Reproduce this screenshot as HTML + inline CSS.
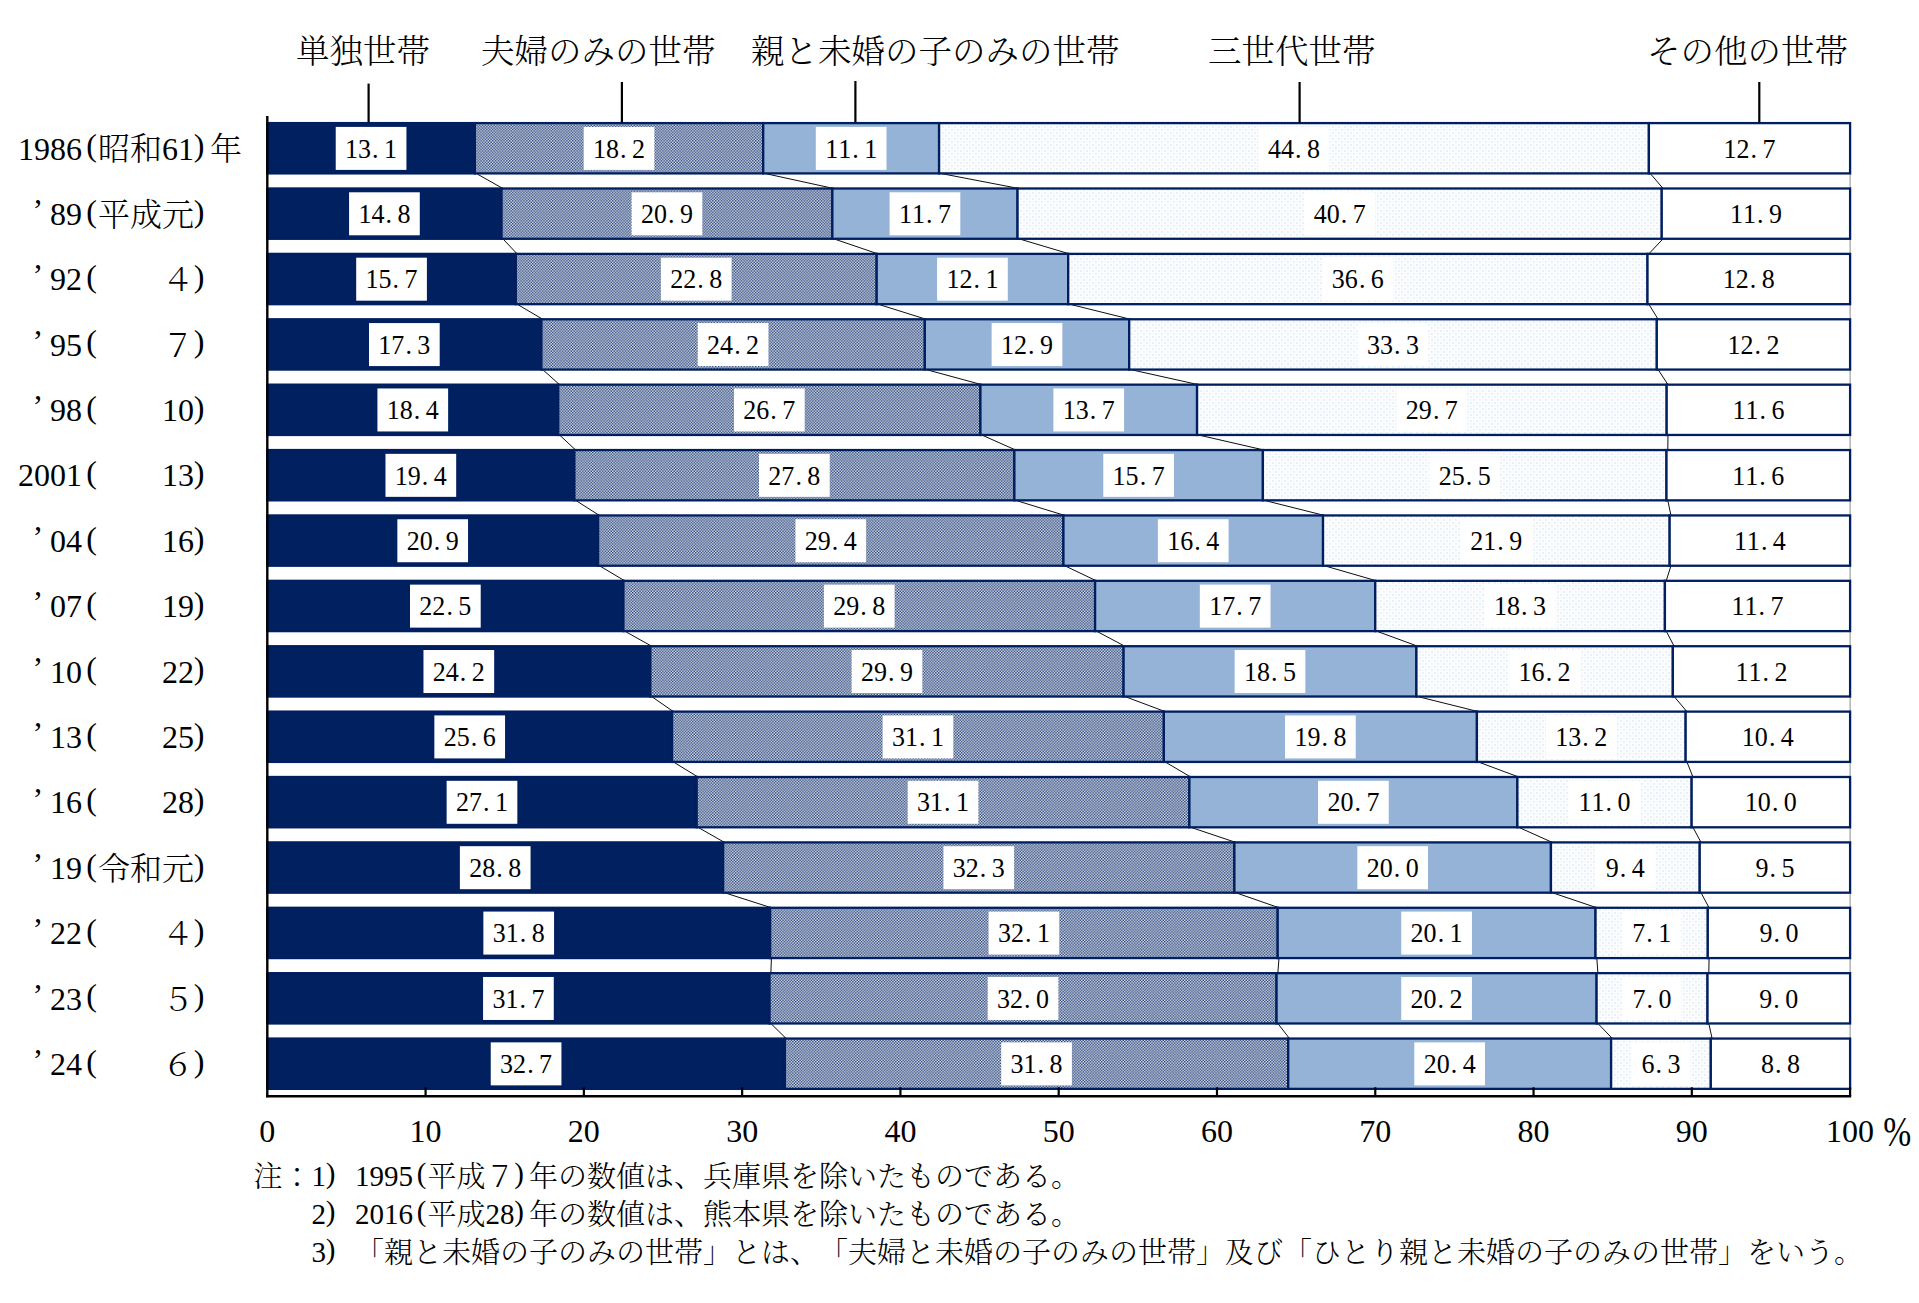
<!DOCTYPE html>
<html lang="ja"><head><meta charset="utf-8"><title>世帯構造別にみた世帯数の構成割合の年次推移</title>
<style>
html,body{margin:0;padding:0;background:#fff;}
body{width:1919px;height:1303px;overflow:hidden;}
svg{display:block;}
text{font-family:"Liberation Serif","Noto Serif CJK JP","Noto Serif CJK SC",serif;fill:#000;font-weight:300;}
.b rect{stroke:#001f60;stroke-width:2.3;}
.lb{fill:#fff;}
</style></head><body>
<svg width="1919" height="1303" viewBox="0 0 1919 1303" lang="ja">
<defs>
<pattern id="p2" patternUnits="userSpaceOnUse" width="2.86" height="2.86">
<rect width="2.86" height="2.86" fill="#e6eaf2"/><rect width="1.41" height="1.41" fill="#183670"/><rect x="1.43" y="1.43" width="1.41" height="1.41" fill="#183670"/>
</pattern>
<pattern id="p4" patternUnits="userSpaceOnUse" width="6" height="6">
<rect width="6" height="6" fill="#fff"/>
<rect x="0.3" y="0.3" width="1.3" height="1.3" fill="#c9def2"/><rect x="3.3" y="3.3" width="1.3" height="1.3" fill="#c9def2"/>
<rect x="3.3" y="0.3" width="1.3" height="1.3" fill="#e9f1fa"/><rect x="0.3" y="3.3" width="1.3" height="1.3" fill="#e9f1fa"/>
</pattern>
</defs>
<rect width="1919" height="1303" fill="#fff"/>
<line x1="1850.1" y1="122" x2="1850.1" y2="1096" stroke="#8c8c8c" stroke-width="1"/>
<g stroke="#000" stroke-width="0.95" fill="none" transform="translate(1.3,0)">
<line x1="474.85" y1="173.40" x2="501.55" y2="188.49"/>
<line x1="763.21" y1="173.40" x2="832.36" y2="188.49"/>
<line x1="939.08" y1="173.40" x2="1017.55" y2="188.49"/>
<line x1="1648.88" y1="173.40" x2="1661.75" y2="188.49"/>
<line x1="501.55" y1="238.79" x2="515.80" y2="253.88"/>
<line x1="832.36" y1="238.79" x2="876.68" y2="253.88"/>
<line x1="1017.55" y1="238.79" x2="1068.20" y2="253.88"/>
<line x1="1661.75" y1="238.79" x2="1647.50" y2="253.88"/>
<line x1="515.80" y1="304.18" x2="541.40" y2="319.27"/>
<line x1="876.68" y1="304.18" x2="924.82" y2="319.27"/>
<line x1="1068.20" y1="304.18" x2="1129.21" y2="319.27"/>
<line x1="1647.50" y1="304.18" x2="1656.81" y2="319.27"/>
<line x1="541.40" y1="369.57" x2="558.24" y2="384.66"/>
<line x1="924.82" y1="369.57" x2="980.43" y2="384.66"/>
<line x1="1129.21" y1="369.57" x2="1197.06" y2="384.66"/>
<line x1="1656.81" y1="369.57" x2="1666.68" y2="384.66"/>
<line x1="558.24" y1="434.96" x2="574.36" y2="450.05"/>
<line x1="980.43" y1="434.96" x2="1014.38" y2="450.05"/>
<line x1="1197.06" y1="434.96" x2="1262.88" y2="450.05"/>
<line x1="1666.68" y1="434.96" x2="1666.50" y2="450.05"/>
<line x1="574.36" y1="500.35" x2="598.11" y2="515.44"/>
<line x1="1014.38" y1="500.35" x2="1063.45" y2="515.44"/>
<line x1="1262.88" y1="500.35" x2="1323.03" y2="515.44"/>
<line x1="1666.50" y1="500.35" x2="1669.66" y2="515.44"/>
<line x1="598.11" y1="565.74" x2="623.43" y2="580.83"/>
<line x1="1063.45" y1="565.74" x2="1095.10" y2="580.83"/>
<line x1="1323.03" y1="565.74" x2="1375.26" y2="580.83"/>
<line x1="1669.66" y1="565.74" x2="1664.91" y2="580.83"/>
<line x1="623.43" y1="631.13" x2="650.34" y2="646.22"/>
<line x1="1095.10" y1="631.13" x2="1123.59" y2="646.22"/>
<line x1="1375.26" y1="631.13" x2="1416.41" y2="646.22"/>
<line x1="1664.91" y1="631.13" x2="1672.83" y2="646.22"/>
<line x1="650.34" y1="696.52" x2="672.09" y2="711.61"/>
<line x1="1123.59" y1="696.52" x2="1163.85" y2="711.61"/>
<line x1="1416.41" y1="696.52" x2="1476.93" y2="711.61"/>
<line x1="1672.83" y1="696.52" x2="1685.65" y2="711.61"/>
<line x1="672.09" y1="761.91" x2="696.67" y2="777.00"/>
<line x1="1163.85" y1="761.91" x2="1189.41" y2="777.00"/>
<line x1="1476.93" y1="761.91" x2="1517.38" y2="777.00"/>
<line x1="1685.65" y1="761.91" x2="1691.66" y2="777.00"/>
<line x1="696.67" y1="827.30" x2="723.15" y2="842.39"/>
<line x1="1189.41" y1="827.30" x2="1234.39" y2="842.39"/>
<line x1="1517.38" y1="827.30" x2="1550.95" y2="842.39"/>
<line x1="1691.66" y1="827.30" x2="1699.73" y2="842.39"/>
<line x1="723.15" y1="892.69" x2="770.13" y2="907.78"/>
<line x1="1234.39" y1="892.69" x2="1277.70" y2="907.78"/>
<line x1="1550.95" y1="892.69" x2="1595.52" y2="907.78"/>
<line x1="1699.73" y1="892.69" x2="1707.79" y2="907.78"/>
<line x1="770.13" y1="958.08" x2="769.55" y2="973.17"/>
<line x1="1277.70" y1="958.08" x2="1276.55" y2="973.17"/>
<line x1="1595.52" y1="958.08" x2="1596.60" y2="973.17"/>
<line x1="1707.79" y1="958.08" x2="1707.51" y2="973.17"/>
<line x1="769.55" y1="1023.47" x2="784.88" y2="1038.56"/>
<line x1="1276.55" y1="1023.47" x2="1288.21" y2="1038.56"/>
<line x1="1596.60" y1="1023.47" x2="1611.10" y2="1038.56"/>
<line x1="1707.51" y1="1023.47" x2="1710.81" y2="1038.56"/>
</g>
<g class="b">
<rect x="267.30" y="123.10" width="207.55" height="50.30" fill="#002060"/>
<rect x="474.85" y="123.10" width="288.36" height="50.30" fill="url(#p2)"/>
<rect x="763.21" y="123.10" width="175.87" height="50.30" fill="#95b3d7"/>
<rect x="939.08" y="123.10" width="709.80" height="50.30" fill="url(#p4)"/>
<rect x="1648.88" y="123.10" width="201.22" height="50.30" fill="#ffffff"/>
<rect x="267.30" y="188.49" width="234.25" height="50.30" fill="#002060"/>
<rect x="501.55" y="188.49" width="330.81" height="50.30" fill="url(#p2)"/>
<rect x="832.36" y="188.49" width="185.19" height="50.30" fill="#95b3d7"/>
<rect x="1017.55" y="188.49" width="644.20" height="50.30" fill="url(#p4)"/>
<rect x="1661.75" y="188.49" width="188.35" height="50.30" fill="#ffffff"/>
<rect x="267.30" y="253.88" width="248.50" height="50.30" fill="#002060"/>
<rect x="515.80" y="253.88" width="360.88" height="50.30" fill="url(#p2)"/>
<rect x="876.68" y="253.88" width="191.52" height="50.30" fill="#95b3d7"/>
<rect x="1068.20" y="253.88" width="579.30" height="50.30" fill="url(#p4)"/>
<rect x="1647.50" y="253.88" width="202.60" height="50.30" fill="#ffffff"/>
<rect x="267.30" y="319.27" width="274.10" height="50.30" fill="#002060"/>
<rect x="541.40" y="319.27" width="383.42" height="50.30" fill="url(#p2)"/>
<rect x="924.82" y="319.27" width="204.39" height="50.30" fill="#95b3d7"/>
<rect x="1129.21" y="319.27" width="527.60" height="50.30" fill="url(#p4)"/>
<rect x="1656.81" y="319.27" width="193.29" height="50.30" fill="#ffffff"/>
<rect x="267.30" y="384.66" width="290.94" height="50.30" fill="#002060"/>
<rect x="558.24" y="384.66" width="422.19" height="50.30" fill="url(#p2)"/>
<rect x="980.43" y="384.66" width="216.63" height="50.30" fill="#95b3d7"/>
<rect x="1197.06" y="384.66" width="469.62" height="50.30" fill="url(#p4)"/>
<rect x="1666.68" y="384.66" width="183.42" height="50.30" fill="#ffffff"/>
<rect x="267.30" y="450.05" width="307.06" height="50.30" fill="#002060"/>
<rect x="574.36" y="450.05" width="440.02" height="50.30" fill="url(#p2)"/>
<rect x="1014.38" y="450.05" width="248.50" height="50.30" fill="#95b3d7"/>
<rect x="1262.88" y="450.05" width="403.61" height="50.30" fill="url(#p4)"/>
<rect x="1666.50" y="450.05" width="183.60" height="50.30" fill="#ffffff"/>
<rect x="267.30" y="515.44" width="330.81" height="50.30" fill="#002060"/>
<rect x="598.11" y="515.44" width="465.34" height="50.30" fill="url(#p2)"/>
<rect x="1063.45" y="515.44" width="259.58" height="50.30" fill="#95b3d7"/>
<rect x="1323.03" y="515.44" width="346.63" height="50.30" fill="url(#p4)"/>
<rect x="1669.66" y="515.44" width="180.44" height="50.30" fill="#ffffff"/>
<rect x="267.30" y="580.83" width="356.13" height="50.30" fill="#002060"/>
<rect x="623.43" y="580.83" width="471.67" height="50.30" fill="url(#p2)"/>
<rect x="1095.10" y="580.83" width="280.16" height="50.30" fill="#95b3d7"/>
<rect x="1375.26" y="580.83" width="289.65" height="50.30" fill="url(#p4)"/>
<rect x="1664.91" y="580.83" width="185.19" height="50.30" fill="#ffffff"/>
<rect x="267.30" y="646.22" width="383.04" height="50.30" fill="#002060"/>
<rect x="650.34" y="646.22" width="473.26" height="50.30" fill="url(#p2)"/>
<rect x="1123.59" y="646.22" width="292.82" height="50.30" fill="#95b3d7"/>
<rect x="1416.41" y="646.22" width="256.41" height="50.30" fill="url(#p4)"/>
<rect x="1672.83" y="646.22" width="177.27" height="50.30" fill="#ffffff"/>
<rect x="267.30" y="711.61" width="404.79" height="50.30" fill="#002060"/>
<rect x="672.09" y="711.61" width="491.76" height="50.30" fill="url(#p2)"/>
<rect x="1163.85" y="711.61" width="313.08" height="50.30" fill="#95b3d7"/>
<rect x="1476.93" y="711.61" width="208.72" height="50.30" fill="url(#p4)"/>
<rect x="1685.65" y="711.61" width="164.45" height="50.30" fill="#ffffff"/>
<rect x="267.30" y="777.00" width="429.37" height="50.30" fill="#002060"/>
<rect x="696.67" y="777.00" width="492.74" height="50.30" fill="url(#p2)"/>
<rect x="1189.41" y="777.00" width="327.97" height="50.30" fill="#95b3d7"/>
<rect x="1517.38" y="777.00" width="174.28" height="50.30" fill="url(#p4)"/>
<rect x="1691.66" y="777.00" width="158.44" height="50.30" fill="#ffffff"/>
<rect x="267.30" y="842.39" width="455.85" height="50.30" fill="#002060"/>
<rect x="723.15" y="842.39" width="511.24" height="50.30" fill="url(#p2)"/>
<rect x="1234.39" y="842.39" width="316.56" height="50.30" fill="#95b3d7"/>
<rect x="1550.95" y="842.39" width="148.78" height="50.30" fill="url(#p4)"/>
<rect x="1699.73" y="842.39" width="150.37" height="50.30" fill="#ffffff"/>
<rect x="267.30" y="907.78" width="502.83" height="50.30" fill="#002060"/>
<rect x="770.13" y="907.78" width="507.57" height="50.30" fill="url(#p2)"/>
<rect x="1277.70" y="907.78" width="317.82" height="50.30" fill="#95b3d7"/>
<rect x="1595.52" y="907.78" width="112.27" height="50.30" fill="url(#p4)"/>
<rect x="1707.79" y="907.78" width="142.31" height="50.30" fill="#ffffff"/>
<rect x="267.30" y="973.17" width="502.25" height="50.30" fill="#002060"/>
<rect x="769.55" y="973.17" width="507.00" height="50.30" fill="url(#p2)"/>
<rect x="1276.55" y="973.17" width="320.05" height="50.30" fill="#95b3d7"/>
<rect x="1596.60" y="973.17" width="110.91" height="50.30" fill="url(#p4)"/>
<rect x="1707.51" y="973.17" width="142.59" height="50.30" fill="#ffffff"/>
<rect x="267.30" y="1038.56" width="517.58" height="50.30" fill="#002060"/>
<rect x="784.88" y="1038.56" width="503.33" height="50.30" fill="url(#p2)"/>
<rect x="1288.21" y="1038.56" width="322.89" height="50.30" fill="#95b3d7"/>
<rect x="1611.10" y="1038.56" width="99.72" height="50.30" fill="url(#p4)"/>
<rect x="1710.81" y="1038.56" width="139.29" height="50.30" fill="#ffffff"/>
</g>
<rect class="lb" x="335.73" y="126.90" width="70.70" height="43"/>
<text class="dl" font-size="26" transform="scale(1,1.03)" y="153.01" x="345.08 358.08 372.12 384.08">13.1</text>
<rect class="lb" x="583.68" y="126.90" width="70.70" height="43"/>
<text class="dl" font-size="26" transform="scale(1,1.03)" y="153.01" x="593.03 606.03 620.07 632.03">18.2</text>
<rect class="lb" x="815.80" y="126.90" width="70.70" height="43"/>
<text class="dl" font-size="26" transform="scale(1,1.03)" y="153.01" x="825.15 838.15 852.19 864.15">11.1</text>
<rect class="lb" x="1258.63" y="126.90" width="70.70" height="43"/>
<text class="dl" font-size="26" transform="scale(1,1.03)" y="153.01" x="1267.98 1280.98 1295.02 1306.98">44.8</text>
<text class="dl" font-size="26" transform="scale(1,1.03)" y="153.01" x="1723.49 1736.49 1750.53 1762.49">12.7</text>
<rect class="lb" x="349.08" y="192.29" width="70.70" height="43"/>
<text class="dl" font-size="26" transform="scale(1,1.03)" y="216.50" x="358.43 371.43 385.47 397.43">14.8</text>
<rect class="lb" x="631.61" y="192.29" width="70.70" height="43"/>
<text class="dl" font-size="26" transform="scale(1,1.03)" y="216.50" x="640.96 653.96 668.00 679.96">20.9</text>
<rect class="lb" x="889.60" y="192.29" width="70.70" height="43"/>
<text class="dl" font-size="26" transform="scale(1,1.03)" y="216.50" x="898.95 911.95 925.99 937.95">11.7</text>
<rect class="lb" x="1304.30" y="192.29" width="70.70" height="43"/>
<text class="dl" font-size="26" transform="scale(1,1.03)" y="216.50" x="1313.65 1326.65 1340.69 1352.65">40.7</text>
<text class="dl" font-size="26" transform="scale(1,1.03)" y="216.50" x="1729.92 1742.92 1756.96 1768.92">11.9</text>
<rect class="lb" x="356.20" y="257.68" width="70.70" height="43"/>
<text class="dl" font-size="26" transform="scale(1,1.03)" y="279.98" x="365.55 378.55 392.59 404.55">15.7</text>
<rect class="lb" x="660.89" y="257.68" width="70.70" height="43"/>
<text class="dl" font-size="26" transform="scale(1,1.03)" y="279.98" x="670.24 683.24 697.28 709.24">22.8</text>
<rect class="lb" x="937.09" y="257.68" width="70.70" height="43"/>
<text class="dl" font-size="26" transform="scale(1,1.03)" y="279.98" x="946.44 959.44 973.48 985.44">12.1</text>
<rect class="lb" x="1322.50" y="257.68" width="70.70" height="43"/>
<text class="dl" font-size="26" transform="scale(1,1.03)" y="279.98" x="1331.85 1344.85 1358.89 1370.85">36.6</text>
<text class="dl" font-size="26" transform="scale(1,1.03)" y="279.98" x="1722.80 1735.80 1749.84 1761.80">12.8</text>
<rect class="lb" x="369.00" y="323.07" width="70.70" height="43"/>
<text class="dl" font-size="26" transform="scale(1,1.03)" y="343.47" x="378.35 391.35 405.39 417.35">17.3</text>
<rect class="lb" x="697.76" y="323.07" width="70.70" height="43"/>
<text class="dl" font-size="26" transform="scale(1,1.03)" y="343.47" x="707.11 720.11 734.15 746.11">24.2</text>
<rect class="lb" x="991.66" y="323.07" width="70.70" height="43"/>
<text class="dl" font-size="26" transform="scale(1,1.03)" y="343.47" x="1001.01 1014.01 1028.05 1040.01">12.9</text>
<rect class="lb" x="1357.66" y="323.07" width="70.70" height="43"/>
<text class="dl" font-size="26" transform="scale(1,1.03)" y="343.47" x="1367.01 1380.01 1394.05 1406.01">33.3</text>
<text class="dl" font-size="26" transform="scale(1,1.03)" y="343.47" x="1727.45 1740.45 1754.49 1766.45">12.2</text>
<rect class="lb" x="377.42" y="388.46" width="70.70" height="43"/>
<text class="dl" font-size="26" transform="scale(1,1.03)" y="406.95" x="386.77 399.77 413.81 425.77">18.4</text>
<rect class="lb" x="733.99" y="388.46" width="70.70" height="43"/>
<text class="dl" font-size="26" transform="scale(1,1.03)" y="406.95" x="743.34 756.34 770.38 782.34">26.7</text>
<rect class="lb" x="1053.39" y="388.46" width="70.70" height="43"/>
<text class="dl" font-size="26" transform="scale(1,1.03)" y="406.95" x="1062.74 1075.74 1089.78 1101.74">13.7</text>
<rect class="lb" x="1396.52" y="388.46" width="70.70" height="43"/>
<text class="dl" font-size="26" transform="scale(1,1.03)" y="406.95" x="1405.87 1418.87 1432.91 1444.87">29.7</text>
<text class="dl" font-size="26" transform="scale(1,1.03)" y="406.95" x="1732.39 1745.39 1759.43 1771.39">11.6</text>
<rect class="lb" x="385.48" y="453.85" width="70.70" height="43"/>
<text class="dl" font-size="26" transform="scale(1,1.03)" y="470.44" x="394.83 407.83 421.87 433.83">19.4</text>
<rect class="lb" x="759.02" y="453.85" width="70.70" height="43"/>
<text class="dl" font-size="26" transform="scale(1,1.03)" y="470.44" x="768.37 781.37 795.41 807.37">27.8</text>
<rect class="lb" x="1103.28" y="453.85" width="70.70" height="43"/>
<text class="dl" font-size="26" transform="scale(1,1.03)" y="470.44" x="1112.63 1125.63 1139.67 1151.63">15.7</text>
<rect class="lb" x="1429.34" y="453.85" width="70.70" height="43"/>
<text class="dl" font-size="26" transform="scale(1,1.03)" y="470.44" x="1438.69 1451.69 1465.73 1477.69">25.5</text>
<text class="dl" font-size="26" transform="scale(1,1.03)" y="470.44" x="1732.30 1745.30 1759.34 1771.30">11.6</text>
<rect class="lb" x="397.35" y="519.24" width="70.70" height="43"/>
<text class="dl" font-size="26" transform="scale(1,1.03)" y="533.92" x="406.70 419.70 433.74 445.70">20.9</text>
<rect class="lb" x="795.43" y="519.24" width="70.70" height="43"/>
<text class="dl" font-size="26" transform="scale(1,1.03)" y="533.92" x="804.78 817.78 831.82 843.78">29.4</text>
<rect class="lb" x="1157.89" y="519.24" width="70.70" height="43"/>
<text class="dl" font-size="26" transform="scale(1,1.03)" y="533.92" x="1167.24 1180.24 1194.28 1206.24">16.4</text>
<rect class="lb" x="1460.99" y="519.24" width="70.70" height="43"/>
<text class="dl" font-size="26" transform="scale(1,1.03)" y="533.92" x="1470.34 1483.34 1497.38 1509.34">21.9</text>
<text class="dl" font-size="26" transform="scale(1,1.03)" y="533.92" x="1733.88 1746.88 1760.92 1772.88">11.4</text>
<rect class="lb" x="410.01" y="584.63" width="70.70" height="43"/>
<text class="dl" font-size="26" transform="scale(1,1.03)" y="597.41" x="419.37 432.37 446.41 458.37">22.5</text>
<rect class="lb" x="823.92" y="584.63" width="70.70" height="43"/>
<text class="dl" font-size="26" transform="scale(1,1.03)" y="597.41" x="833.27 846.27 860.31 872.27">29.8</text>
<rect class="lb" x="1199.83" y="584.63" width="70.70" height="43"/>
<text class="dl" font-size="26" transform="scale(1,1.03)" y="597.41" x="1209.18 1222.18 1236.22 1248.18">17.7</text>
<rect class="lb" x="1484.74" y="584.63" width="70.70" height="43"/>
<text class="dl" font-size="26" transform="scale(1,1.03)" y="597.41" x="1494.09 1507.09 1521.13 1533.09">18.3</text>
<text class="dl" font-size="26" transform="scale(1,1.03)" y="597.41" x="1731.51 1744.51 1758.55 1770.51">11.7</text>
<rect class="lb" x="423.47" y="650.02" width="70.70" height="43"/>
<text class="dl" font-size="26" transform="scale(1,1.03)" y="660.89" x="432.82 445.82 459.86 471.82">24.2</text>
<rect class="lb" x="851.62" y="650.02" width="70.70" height="43"/>
<text class="dl" font-size="26" transform="scale(1,1.03)" y="660.89" x="860.97 873.97 888.01 899.97">29.9</text>
<rect class="lb" x="1234.65" y="650.02" width="70.70" height="43"/>
<text class="dl" font-size="26" transform="scale(1,1.03)" y="660.89" x="1244.00 1257.00 1271.04 1283.00">18.5</text>
<rect class="lb" x="1509.27" y="650.02" width="70.70" height="43"/>
<text class="dl" font-size="26" transform="scale(1,1.03)" y="660.89" x="1518.62 1531.62 1545.66 1557.62">16.2</text>
<text class="dl" font-size="26" transform="scale(1,1.03)" y="660.89" x="1735.46 1748.46 1762.50 1774.46">11.2</text>
<rect class="lb" x="434.35" y="715.41" width="70.70" height="43"/>
<text class="dl" font-size="26" transform="scale(1,1.03)" y="724.38" x="443.70 456.70 470.74 482.70">25.6</text>
<rect class="lb" x="882.62" y="715.41" width="70.70" height="43"/>
<text class="dl" font-size="26" transform="scale(1,1.03)" y="724.38" x="891.97 904.97 919.01 930.97">31.1</text>
<rect class="lb" x="1285.04" y="715.41" width="70.70" height="43"/>
<text class="dl" font-size="26" transform="scale(1,1.03)" y="724.38" x="1294.39 1307.39 1321.43 1333.39">19.8</text>
<rect class="lb" x="1545.94" y="715.41" width="70.70" height="43"/>
<text class="dl" font-size="26" transform="scale(1,1.03)" y="724.38" x="1555.29 1568.29 1582.33 1594.29">13.2</text>
<text class="dl" font-size="26" transform="scale(1,1.03)" y="724.38" x="1741.88 1754.88 1768.92 1780.88">10.4</text>
<rect class="lb" x="446.63" y="780.80" width="70.70" height="43"/>
<text class="dl" font-size="26" transform="scale(1,1.03)" y="787.86" x="455.98 468.98 483.02 494.98">27.1</text>
<rect class="lb" x="907.69" y="780.80" width="70.70" height="43"/>
<text class="dl" font-size="26" transform="scale(1,1.03)" y="787.86" x="917.04 930.04 944.08 956.04">31.1</text>
<rect class="lb" x="1318.05" y="780.80" width="70.70" height="43"/>
<text class="dl" font-size="26" transform="scale(1,1.03)" y="787.86" x="1327.40 1340.40 1354.44 1366.40">20.7</text>
<rect class="lb" x="1569.17" y="780.80" width="70.70" height="43"/>
<text class="dl" font-size="26" transform="scale(1,1.03)" y="787.86" x="1578.52 1591.52 1605.56 1617.52">11.0</text>
<text class="dl" font-size="26" transform="scale(1,1.03)" y="787.86" x="1744.88 1757.88 1771.92 1783.88">10.0</text>
<rect class="lb" x="459.87" y="846.19" width="70.70" height="43"/>
<text class="dl" font-size="26" transform="scale(1,1.03)" y="851.35" x="469.22 482.22 496.26 508.22">28.8</text>
<rect class="lb" x="943.42" y="846.19" width="70.70" height="43"/>
<text class="dl" font-size="26" transform="scale(1,1.03)" y="851.35" x="952.77 965.77 979.81 991.77">32.3</text>
<rect class="lb" x="1357.32" y="846.19" width="70.70" height="43"/>
<text class="dl" font-size="26" transform="scale(1,1.03)" y="851.35" x="1366.67 1379.67 1393.71 1405.67">20.0</text>
<rect class="lb" x="1596.09" y="846.19" width="58.50" height="43"/>
<text class="dl" font-size="26" transform="scale(1,1.03)" y="851.35" x="1605.84 1619.88 1631.84">9.4</text>
<text class="dl" font-size="26" transform="scale(1,1.03)" y="851.35" x="1755.42 1769.46 1781.42">9.5</text>
<rect class="lb" x="483.36" y="911.58" width="70.70" height="43"/>
<text class="dl" font-size="26" transform="scale(1,1.03)" y="914.83" x="492.71 505.71 519.75 531.71">31.8</text>
<rect class="lb" x="988.56" y="911.58" width="70.70" height="43"/>
<text class="dl" font-size="26" transform="scale(1,1.03)" y="914.83" x="997.91 1010.91 1024.95 1036.91">32.1</text>
<rect class="lb" x="1401.26" y="911.58" width="70.70" height="43"/>
<text class="dl" font-size="26" transform="scale(1,1.03)" y="914.83" x="1410.61 1423.61 1437.65 1449.61">20.1</text>
<rect class="lb" x="1622.41" y="911.58" width="58.50" height="43"/>
<text class="dl" font-size="26" transform="scale(1,1.03)" y="914.83" x="1632.16 1646.20 1658.16">7.1</text>
<text class="dl" font-size="26" transform="scale(1,1.03)" y="914.83" x="1759.45 1773.49 1785.45">9.0</text>
<rect class="lb" x="483.07" y="976.97" width="70.70" height="43"/>
<text class="dl" font-size="26" transform="scale(1,1.03)" y="978.32" x="492.42 505.42 519.46 531.42">31.7</text>
<rect class="lb" x="987.70" y="976.97" width="70.70" height="43"/>
<text class="dl" font-size="26" transform="scale(1,1.03)" y="978.32" x="997.05 1010.05 1024.09 1036.05">32.0</text>
<rect class="lb" x="1401.23" y="976.97" width="70.70" height="43"/>
<text class="dl" font-size="26" transform="scale(1,1.03)" y="978.32" x="1410.58 1423.58 1437.62 1449.58">20.2</text>
<rect class="lb" x="1622.80" y="976.97" width="58.50" height="43"/>
<text class="dl" font-size="26" transform="scale(1,1.03)" y="978.32" x="1632.55 1646.59 1658.55">7.0</text>
<text class="dl" font-size="26" transform="scale(1,1.03)" y="978.32" x="1759.30 1773.34 1785.30">9.0</text>
<rect class="lb" x="490.74" y="1042.36" width="70.70" height="43"/>
<text class="dl" font-size="26" transform="scale(1,1.03)" y="1041.81" x="500.09 513.09 527.13 539.09">32.7</text>
<rect class="lb" x="1001.19" y="1042.36" width="70.70" height="43"/>
<text class="dl" font-size="26" transform="scale(1,1.03)" y="1041.81" x="1010.54 1023.54 1037.58 1049.54">31.8</text>
<rect class="lb" x="1414.30" y="1042.36" width="70.70" height="43"/>
<text class="dl" font-size="26" transform="scale(1,1.03)" y="1041.81" x="1423.65 1436.65 1450.69 1462.65">20.4</text>
<rect class="lb" x="1631.71" y="1042.36" width="58.50" height="43"/>
<text class="dl" font-size="26" transform="scale(1,1.03)" y="1041.81" x="1641.46 1655.50 1667.46">6.3</text>
<text class="dl" font-size="26" transform="scale(1,1.03)" y="1041.81" x="1760.96 1775.00 1786.96">8.8</text>
<g stroke="#000" stroke-width="2.4" fill="none">
<line x1="267.30" y1="116" x2="267.30" y2="1097.2"/>
<line x1="266.10" y1="1096.2" x2="1851.20" y2="1096.2"/>
</g>
<g stroke="#000" stroke-width="2.2">
<line x1="425.58" y1="1087.3" x2="425.58" y2="1096"/>
<line x1="583.86" y1="1087.3" x2="583.86" y2="1096"/>
<line x1="742.14" y1="1087.3" x2="742.14" y2="1096"/>
<line x1="900.42" y1="1087.3" x2="900.42" y2="1096"/>
<line x1="1058.70" y1="1087.3" x2="1058.70" y2="1096"/>
<line x1="1216.98" y1="1087.3" x2="1216.98" y2="1096"/>
<line x1="1375.26" y1="1087.3" x2="1375.26" y2="1096"/>
<line x1="1533.54" y1="1087.3" x2="1533.54" y2="1096"/>
<line x1="1691.82" y1="1087.3" x2="1691.82" y2="1096"/>
<line x1="1850.10" y1="1087.3" x2="1850.10" y2="1096"/>
</g>
<text class="ax" font-size="32" y="1142.30" x="259.30">0</text>
<text class="ax" font-size="32" y="1142.30" x="409.58 425.58">10</text>
<text class="ax" font-size="32" y="1142.30" x="567.86 583.86">20</text>
<text class="ax" font-size="32" y="1142.30" x="726.14 742.14">30</text>
<text class="ax" font-size="32" y="1142.30" x="884.42 900.42">40</text>
<text class="ax" font-size="32" y="1142.30" x="1042.70 1058.70">50</text>
<text class="ax" font-size="32" y="1142.30" x="1200.98 1216.98">60</text>
<text class="ax" font-size="32" y="1142.30" x="1359.26 1375.26">70</text>
<text class="ax" font-size="32" y="1142.30" x="1517.54 1533.54">80</text>
<text class="ax" font-size="32" y="1142.30" x="1675.82 1691.82">90</text>
<text class="ax" font-size="32" y="1142.30" x="1826.10 1842.10 1858.10">100</text>
<text class="ax" font-size="32" transform="translate(1883.3,1146.4) scale(1.05,1.29)">%</text>
<text class="cat" font-size="32" y="159.50 159.50 159.50 159.50 156.30 160.46 160.46 159.50 159.50 156.30 160.46" x="18.00 34.00 50.00 66.00 86.16 98.00 130.00 162.00 178.00 193.68 210.00">1986(昭和61)年</text>
<text class="cat" font-size="32" y="221.05 224.89 224.89 221.69 225.85 225.85 225.85 221.69" x="32.40 50.00 66.00 86.16 98.00 130.00 162.00 193.68">’89(平成元)</text>
<text class="cat" font-size="32" y="286.44 290.28 290.28 287.08 291.24 287.08" x="32.40 50.00 66.00 86.16 162.00 193.68">’92(４)</text>
<text class="cat" font-size="32" y="351.83 355.67 355.67 352.47 356.63 352.47" x="32.40 50.00 66.00 86.16 162.00 193.68">’95(７)</text>
<text class="cat" font-size="32" y="417.22 421.06 421.06 417.86 421.06 421.06 417.86" x="32.40 50.00 66.00 86.16 162.00 178.00 193.68">’98(10)</text>
<text class="cat" font-size="32" y="486.45 486.45 486.45 486.45 483.25 486.45 486.45 483.25" x="18.00 34.00 50.00 66.00 86.16 162.00 178.00 193.68">2001(13)</text>
<text class="cat" font-size="32" y="548.00 551.84 551.84 548.64 551.84 551.84 548.64" x="32.40 50.00 66.00 86.16 162.00 178.00 193.68">’04(16)</text>
<text class="cat" font-size="32" y="613.39 617.23 617.23 614.03 617.23 617.23 614.03" x="32.40 50.00 66.00 86.16 162.00 178.00 193.68">’07(19)</text>
<text class="cat" font-size="32" y="678.78 682.62 682.62 679.42 682.62 682.62 679.42" x="32.40 50.00 66.00 86.16 162.00 178.00 193.68">’10(22)</text>
<text class="cat" font-size="32" y="744.17 748.01 748.01 744.81 748.01 748.01 744.81" x="32.40 50.00 66.00 86.16 162.00 178.00 193.68">’13(25)</text>
<text class="cat" font-size="32" y="809.56 813.40 813.40 810.20 813.40 813.40 810.20" x="32.40 50.00 66.00 86.16 162.00 178.00 193.68">’16(28)</text>
<text class="cat" font-size="32" y="874.95 878.79 878.79 875.59 879.75 879.75 879.75 875.59" x="32.40 50.00 66.00 86.16 98.00 130.00 162.00 193.68">’19(令和元)</text>
<text class="cat" font-size="32" y="940.34 944.18 944.18 940.98 945.14 940.98" x="32.40 50.00 66.00 86.16 162.00 193.68">’22(４)</text>
<text class="cat" font-size="32" y="1005.73 1009.57 1009.57 1006.37 1010.53 1006.37" x="32.40 50.00 66.00 86.16 162.00 193.68">’23(５)</text>
<text class="cat" font-size="32" y="1071.12 1074.96 1074.96 1071.76 1075.92 1071.76" x="32.40 50.00 66.00 86.16 162.00 193.68">’24(６)</text>
<text class="hd" font-size="33.5" y="63.20" x="296.00 329.50 363.00 396.50">単独世帯</text>
<line x1="368.6" y1="83.6" x2="368.6" y2="122.5" stroke="#000" stroke-width="2.2"/>
<text class="hd" font-size="33.5" y="63.20" x="481.00 514.50 548.00 581.50 615.00 648.50 682.00">夫婦のみの世帯</text>
<line x1="621.9" y1="82.0" x2="621.9" y2="122.5" stroke="#000" stroke-width="2.2"/>
<text class="hd" font-size="33.5" y="63.20" x="751.00 784.50 818.00 851.50 885.00 918.50 952.00 985.50 1019.00 1052.50 1086.00">親と未婚の子のみの世帯</text>
<line x1="855.4" y1="81.0" x2="855.4" y2="122.5" stroke="#000" stroke-width="2.2"/>
<text class="hd" font-size="33.5" y="63.20" x="1208.00 1241.50 1275.00 1308.50 1342.00">三世代世帯</text>
<line x1="1299.6" y1="82.0" x2="1299.6" y2="122.5" stroke="#000" stroke-width="2.2"/>
<text class="hd" font-size="33.5" y="63.20" x="1647.00 1680.50 1714.00 1747.50 1781.00 1814.50">その他の世帯</text>
<line x1="1759.3" y1="82.0" x2="1759.3" y2="122.5" stroke="#000" stroke-width="2.2"/>
<text class="nt" font-size="29" y="1186.87 1186.87 1186.00 1183.10 1186.00 1186.00 1186.00 1186.00 1183.10 1186.87 1186.87 1186.87 1183.10 1186.87 1186.87 1186.87 1186.87 1186.87 1186.87 1186.87 1186.87 1186.87 1186.87 1186.87 1186.87 1186.87 1186.87 1186.87 1186.87 1186.87 1186.87 1186.87" x="253.50 282.50 311.50 325.71 355.00 369.50 384.00 398.50 416.77 427.50 456.50 485.50 514.21 529.00 558.00 587.00 616.00 645.00 674.00 703.00 732.00 761.00 790.00 819.00 848.00 877.00 906.00 935.00 964.00 993.00 1022.00 1051.00">注：1)1995(平成７)年の数値は、兵庫県を除いたものである。</text>
<text class="nt" font-size="29" y="1224.00 1221.10 1224.00 1224.00 1224.00 1224.00 1221.10 1224.87 1224.87 1224.00 1224.00 1221.10 1224.87 1224.87 1224.87 1224.87 1224.87 1224.87 1224.87 1224.87 1224.87 1224.87 1224.87 1224.87 1224.87 1224.87 1224.87 1224.87 1224.87 1224.87 1224.87" x="311.50 325.71 355.00 369.50 384.00 398.50 416.77 427.50 456.50 485.50 500.00 514.21 529.00 558.00 587.00 616.00 645.00 674.00 703.00 732.00 761.00 790.00 819.00 848.00 877.00 906.00 935.00 964.00 993.00 1022.00 1051.00">2)2016(平成28)年の数値は、熊本県を除いたものである。</text>
<text class="nt" font-size="29" y="1262.00 1259.10 1262.87 1262.87 1262.87 1262.87 1262.87 1262.87 1262.87 1262.87 1262.87 1262.87 1262.87 1262.87 1262.87 1262.87 1262.87 1262.87 1262.87 1262.87 1262.87 1262.87 1262.87 1262.87 1262.87 1262.87 1262.87 1262.87 1262.87 1262.87 1262.87 1262.87 1262.87 1262.87 1262.87 1262.87 1262.87 1262.87 1262.87 1262.87 1262.87 1262.87 1262.87 1262.87 1262.87 1262.87 1262.87 1262.87 1262.87 1262.87 1262.87 1262.87 1262.87 1262.87" x="311.50 325.71 355.00 384.00 413.00 442.00 471.00 500.00 529.00 558.00 587.00 616.00 645.00 674.00 703.00 732.00 761.00 790.00 819.00 848.00 877.00 906.00 935.00 964.00 993.00 1022.00 1051.00 1080.00 1109.00 1138.00 1167.00 1196.00 1225.00 1254.00 1283.00 1312.00 1341.00 1370.00 1399.00 1428.00 1457.00 1486.00 1515.00 1544.00 1573.00 1602.00 1631.00 1660.00 1689.00 1718.00 1747.00 1776.00 1805.00 1834.00">3)「親と未婚の子のみの世帯」とは、「夫婦と未婚の子のみの世帯」及び「ひとり親と未婚の子のみの世帯」をいう。</text>
</svg></body></html>
